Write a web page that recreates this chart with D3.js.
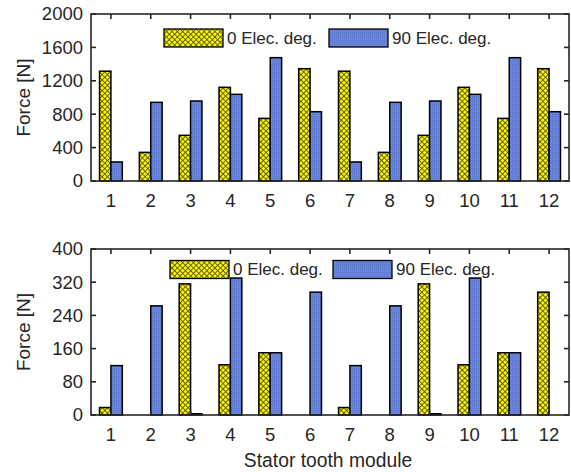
<!DOCTYPE html>
<html><head><meta charset="utf-8">
<script src="https://cdn.jsdelivr.net/npm/d3@7"></script>
<style>body{margin:0;background:#fff}svg{display:block}text{font-family:"Liberation Sans",Arial,Helvetica,sans-serif;fill:#262626}</style>
</head><body>
<script>
const categories = [1,2,3,4,5,6,7,8,9,10,11,12];
const seriesNames = ["0 Elec. deg.", "90 Elec. deg."];
const top0 = [1315,343,547,1122,750,1345,1315,343,547,1122,750,1345];
const top90 = [228,942,958,1038,1477,830,228,942,958,1038,1477,830];
const bot0 = [18,0,316,121,150,0,18,0,316,121,150,296];
const bot90 = [119,263,3,330,150,296,119,263,3,330,150,0];
const topTicks = [0,400,800,1200,1600,2000];
const botTicks = [0,80,160,240,320,400];
const yLabel = "Force [N]";
const xLabel = "Stator tooth module";

const W = 571, H = 472;
const svg = d3.select("body").append("svg").attr("width", W).attr("height", H);
const defs = svg.append("defs");
const py = defs.append("pattern").attr("id","pY").attr("patternUnits","userSpaceOnUse")
  .attr("width",3.8).attr("height",3.8).attr("patternTransform","rotate(45)");
py.append("rect").attr("width",3.8).attr("height",3.8).attr("fill","#4a4a10");
py.append("rect").attr("x",0).attr("y",0).attr("width",3.0).attr("height",3.0).attr("fill","#fbf500");
const pb = defs.append("pattern").attr("id","pB").attr("patternUnits","userSpaceOnUse").attr("width",2).attr("height",2);
pb.append("rect").attr("width",2).attr("height",2).attr("fill","#6a86da");
pb.append("rect").attr("width",1).attr("height",1).attr("fill","#5874cc");

function panel(y0, y1, vals0, vals90, ticks, legY, legX0, legX1) {
  const x = d3.scaleLinear().domain([0.5, 12.5]).range([91, 569]);
  const y = d3.scaleLinear().domain([ticks[0], ticks[ticks.length-1]]).range([y1, y0]);
  const bw = x(0.286) - x(0);
  const g = svg.append("g");
  const data = categories.map((c,i)=>({c, a: vals0[i], b: vals90[i]}));
  data.forEach(d=>{
    if (d.a > 0) g.append("rect").attr("x", x(d.c) - bw).attr("width", bw)
      .attr("y", y(d.a)).attr("height", y(0)-y(d.a))
      .attr("fill","url(#pY)").attr("stroke","#000").attr("stroke-width",1.5);
    if (d.b > 0) g.append("rect").attr("x", x(d.c)).attr("width", bw)
      .attr("y", y(d.b)).attr("height", y(0)-y(d.b))
      .attr("fill","url(#pB)").attr("stroke","#000").attr("stroke-width",1.5);
  });
  const ax = svg.append("g");
  const tl = 5;
  ax.append("rect").attr("x",91).attr("y",y0).attr("width",569-91).attr("height",y1-y0)
    .attr("fill","none").attr("stroke","#262626").attr("stroke-width",1.6);
  categories.forEach(c=>{
    ax.append("line").attr("x1",x(c)).attr("x2",x(c)).attr("y1",y0).attr("y2",y0+tl).attr("stroke","#262626").attr("stroke-width",1.6);
    ax.append("line").attr("x1",x(c)).attr("x2",x(c)).attr("y1",y1).attr("y2",y1-tl).attr("stroke","#262626").attr("stroke-width",1.6);
    ax.append("text").attr("x",x(c)).attr("y",y1+26).attr("text-anchor","middle").attr("font-size",18.5).text(c);
  });
  ticks.forEach(t=>{
    ax.append("line").attr("x1",91).attr("x2",91+tl).attr("y1",y(t)).attr("y2",y(t)).attr("stroke","#262626").attr("stroke-width",1.6);
    ax.append("line").attr("x1",569).attr("x2",569-tl).attr("y1",y(t)).attr("y2",y(t)).attr("stroke","#262626").attr("stroke-width",1.6);
    ax.append("text").attr("x",83).attr("y",y(t)).attr("dy","0.35em").attr("text-anchor","end").attr("font-size",18.5).text(t);
  });
  ax.append("text").attr("transform",`translate(30,${(y0+y1)/2}) rotate(-90)`).attr("text-anchor","middle").attr("font-size",19).text(yLabel);
  const lg = svg.append("g");
  [[legX0,"url(#pY)",seriesNames[0]],[legX1,"url(#pB)",seriesNames[1]]].forEach(([lx,f,n])=>{
    lg.append("rect").attr("x",lx).attr("y",legY-9).attr("width",59).attr("height",18).attr("fill",f).attr("stroke","#000").attr("stroke-width",1.3);
    lg.append("text").attr("x",lx+63).attr("y",legY).attr("dy","0.35em").attr("font-size",17).text(n);
  });
}
panel(14, 181, top0, top90, topTicks, 38, 164, 329);
panel(249, 415, bot0, bot90, botTicks, 269.5, 170, 333);
svg.append("text").attr("x",328).attr("y",467).attr("text-anchor","middle").attr("font-size",19.3).text(xLabel);
</script>
</body></html>
